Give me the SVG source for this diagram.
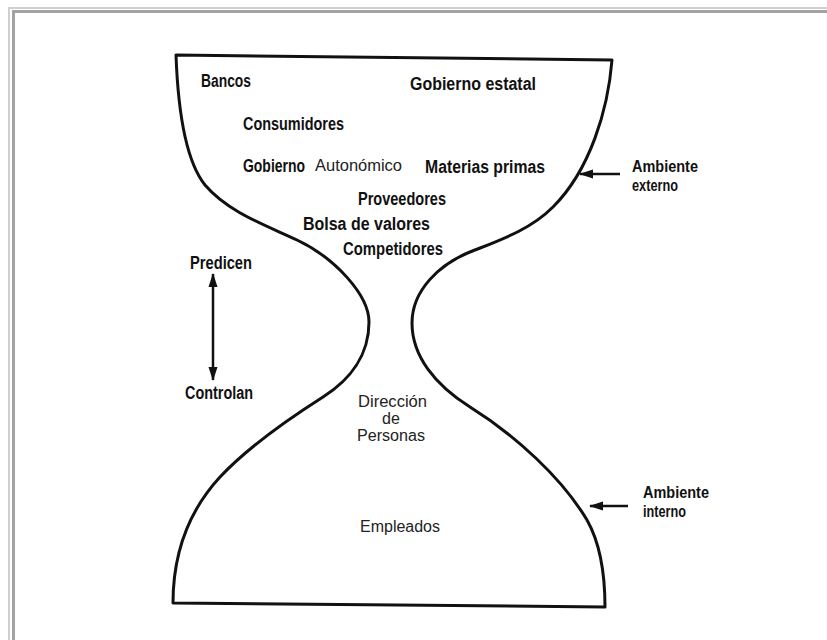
<svg xmlns="http://www.w3.org/2000/svg" width="827" height="640" viewBox="0 0 827 640">
<defs>
<style>
.b{font-family:"Liberation Sans Narrow","Liberation Sans",Arial,sans-serif;font-weight:bold;font-size:18px;fill:#111}
.s{font-size:17px}
.r{font-family:"Liberation Sans",Arial,sans-serif;font-size:16px;fill:#222}
.arr{stroke:#111;stroke-width:2.5;fill:none}
</style>
<marker id="ah" viewBox="0 0 14 10" refX="13" refY="5" markerWidth="14" markerHeight="10" markerUnits="userSpaceOnUse" orient="auto-start-reverse">
<path d="M0,0.5 L14,5 L0,9.5 Z" fill="#111"/>
</marker>
</defs>
<rect width="827" height="640" fill="#fff"/>
<g id="frame" fill="none">
<path d="M9,640 V8 H827" stroke="#cfcfcf" stroke-width="2"/>
<path d="M13.5,640 V11.5 H827" stroke="#a3a3a3" stroke-width="3"/>
</g>
<g id="hourglass">
<path d="M176,55 L612,60 C608,110 590,170 553,207 C530,230 500,240 470,252 C440,264 412,290 412,323 C412,356 435,385 470,407 C515,435 562,478 587,520 C600,543 605,575 605,607 L173,603 C173,560 185,515 220,477 C250,445 290,418 323,397 C350,380 369,355 369,322 C369,295 335,258 297,240 C265,225 228,212 205,185 C185,160 178,110 176,55 Z" fill="none" stroke="#111" stroke-width="3" stroke-linejoin="round"/>
</g>
<g id="external-items">
<text class="b" x="201" y="87" textLength="50" lengthAdjust="spacingAndGlyphs">Bancos</text>
<text class="b" x="410" y="90" textLength="126" lengthAdjust="spacingAndGlyphs">Gobierno  estatal</text>
<text class="b" x="243" y="130" textLength="101" lengthAdjust="spacingAndGlyphs">Consumidores</text>
<text class="b" x="243" y="172" textLength="62" lengthAdjust="spacingAndGlyphs">Gobierno</text>
<text class="r" x="315" y="171" textLength="87" lengthAdjust="spacingAndGlyphs">Autonómico</text>
<text class="b" x="425" y="173" textLength="120" lengthAdjust="spacingAndGlyphs">Materias primas</text>
<text class="b" x="358" y="205" textLength="88" lengthAdjust="spacingAndGlyphs">Proveedores</text>
<text class="b" x="303" y="230" textLength="127" lengthAdjust="spacingAndGlyphs">Bolsa de valores</text>
<text class="b" x="343" y="255" textLength="100" lengthAdjust="spacingAndGlyphs">Competidores</text>
</g>
<g id="internal-items">
<text class="r" x="358" y="407" textLength="69" lengthAdjust="spacingAndGlyphs">Dirección</text>
<text class="r" x="391" y="424" text-anchor="middle">de</text>
<text class="r" x="357" y="441" textLength="68" lengthAdjust="spacingAndGlyphs">Personas</text>
<text class="r" x="360" y="532" textLength="80" lengthAdjust="spacingAndGlyphs">Empleados</text>
</g>
<g id="predicen-controlan">
<text class="b" x="190" y="269" textLength="62" lengthAdjust="spacingAndGlyphs">Predicen</text>
<text class="b" x="185" y="399" textLength="68" lengthAdjust="spacingAndGlyphs">Controlan</text>
</g>
<g id="ambiente-externo">
<text class="b s" x="632" y="172" textLength="66" lengthAdjust="spacingAndGlyphs">Ambiente</text>
<text class="b s" x="632" y="191" textLength="46" lengthAdjust="spacingAndGlyphs">externo</text>
</g>
<g id="ambiente-interno">
<text class="b s" x="643" y="498" textLength="66" lengthAdjust="spacingAndGlyphs">Ambiente</text>
<text class="b s" x="643" y="517" textLength="43" lengthAdjust="spacingAndGlyphs">interno</text>
</g>
<g id="connectors">
<line class="arr" x1="213" y1="274" x2="213" y2="380" marker-start="url(#ah)" marker-end="url(#ah)"/>
<line class="arr" x1="620" y1="174" x2="580" y2="174" marker-end="url(#ah)"/>
<line class="arr" x1="628" y1="506" x2="590" y2="506" marker-end="url(#ah)"/>
</g>
</svg>
